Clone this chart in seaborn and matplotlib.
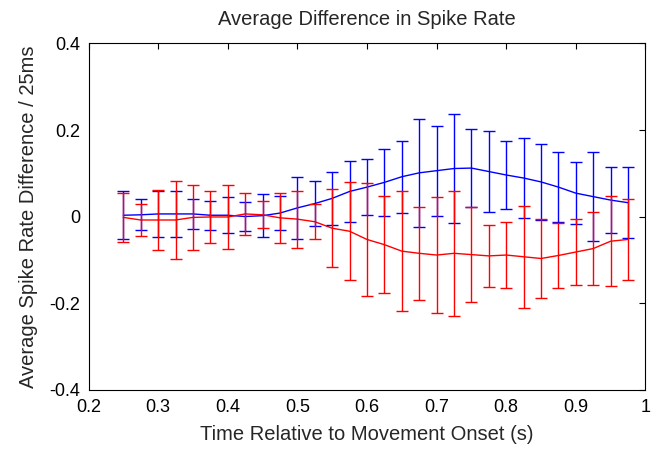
import numpy as np
import pandas as pd
import matplotlib
matplotlib.use('Agg')
import matplotlib.pyplot as plt
import seaborn as sns

# time bins (s)
time_s = [0.25, 0.275, 0.3, 0.325, 0.35, 0.375, 0.4, 0.425, 0.45, 0.475,
          0.5, 0.525, 0.55, 0.575, 0.6, 0.625, 0.65, 0.675, 0.7, 0.725,
          0.75, 0.775, 0.8, 0.825, 0.85, 0.875, 0.9, 0.925, 0.95, 0.975]

blue_mean = [0.003, 0.004, 0.006, 0.006, 0.006, 0.003, 0.003, 0.000, 0.002, 0.008,
             0.020, 0.030, 0.042, 0.058, 0.068, 0.079, 0.092, 0.101, 0.106, 0.111,
             0.112, 0.104, 0.096, 0.089, 0.080, 0.068, 0.054, 0.046, 0.038, 0.032]
blue_err = [0.055, 0.036, 0.053, 0.053, 0.034, 0.034, 0.041, 0.034, 0.049, 0.039,
            0.072, 0.051, 0.062, 0.071, 0.065, 0.077, 0.083, 0.125, 0.104, 0.127,
            0.090, 0.093, 0.079, 0.093, 0.088, 0.081, 0.071, 0.103, 0.077, 0.082]

red_mean = [-0.002, -0.008, -0.008, -0.008, -0.002, -0.001, -0.001, 0.006, 0.004, -0.003,
            -0.006, -0.012, -0.027, -0.034, -0.053, -0.065, -0.080, -0.085, -0.089, -0.085,
            -0.088, -0.091, -0.089, -0.093, -0.097, -0.090, -0.082, -0.074, -0.057, -0.053]
red_err = [0.056, 0.037, 0.069, 0.090, 0.076, 0.060, 0.075, 0.048, 0.031, 0.058,
           0.066, 0.041, 0.090, 0.113, 0.131, 0.112, 0.139, 0.107, 0.133, 0.145,
           0.110, 0.071, 0.077, 0.118, 0.091, 0.075, 0.077, 0.084, 0.104, 0.094]

x_ticks = [0.2, 0.3, 0.4, 0.5, 0.6, 0.7, 0.8, 0.9, 1.0]
x_labels = ['0.2', '0.3', '0.4', '0.5', '0.6', '0.7', '0.8', '0.9', '1']
y_ticks = [-0.4, -0.2, 0.0, 0.2, 0.4]
y_labels = ['-0.4', '-0.2', '0', '0.2', '0.4']

sns.set_style('white')
plt.rcParams['font.family'] = ['Liberation Sans', 'DejaVu Sans']

df = pd.DataFrame({
    'time': time_s * 2,
    'diff': blue_mean + red_mean,
    'err': blue_err + red_err,
    'group': ['blue'] * len(time_s) + ['red'] * len(time_s),
})

fig = plt.figure(figsize=(6.59, 4.53), dpi=100)
ax = fig.add_axes([0.1343, 0.140, 0.8452, 0.764])

palette = {'blue': '#0000ff', 'red': '#ff0000'}
sns.lineplot(data=df, x='time', y='diff', hue='group', palette=palette,
             linewidth=1.0, legend=False, ax=ax)
for g, sub in df.groupby('group'):
    ax.errorbar(sub['time'], sub['diff'], yerr=sub['err'], fmt='none',
                ecolor=palette[g], elinewidth=1.0, capsize=4, capthick=1.0)

ax.set_xlim(0.2, 1.0)
ax.set_ylim(-0.4, 0.4)
ax.set_xticks(x_ticks)
ax.set_xticklabels(x_labels)
ax.set_yticks(y_ticks)
ax.set_yticklabels(y_labels)
ax.tick_params(direction='in', length=4, width=0.8, top=True, right=True,
               labelsize=13, colors='black')
ax.tick_params(axis='x', pad=7)
ax.tick_params(axis='y', pad=6)
for s in ax.spines.values():
    s.set_visible(True)
    s.set_color('black')
    s.set_linewidth(0.8)

ax.set_title('Average Difference in Spike Rate', fontsize=14.5, pad=13)
ax.set_xlabel('Time Relative to Movement Onset (s)', fontsize=14.5, labelpad=6)
ax.set_ylabel('Average Spike Rate Difference / 25ms', fontsize=14.5, labelpad=8)

fig.savefig('out.png', dpi=100)
